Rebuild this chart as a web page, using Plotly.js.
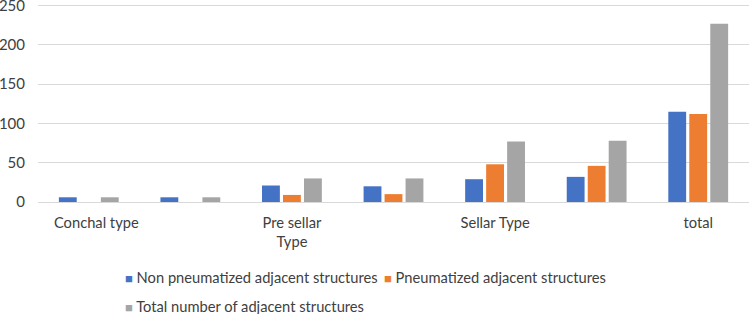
<!DOCTYPE html>
<html>
<head>
<meta charset="utf-8">
<script src="https://cdn.plot.ly/plotly-3.0.1.min.js"></script>
<style>html,body{margin:0;padding:0;background:#fff;}#chart{width:749px;height:314px;}</style>
</head>
<body>
<div id="chart"></div>
<script>
var categories = ["\u00a0\u00a0\u00a0\u00a0Conchal type", "", "Pre sellar<br>Type", "", "Sellar Type", "", "total"];
var seriesNames = ["Non pneumatized adjacent structures", "Pneumatized adjacent structures", "Total number of adjacent structures"];
var nonPneumatized = [6, 6, 21, 20, 29, 32, 115];
var pneumatized = [0, 0, 9, 10, 48, 46, 112];
var totalStructures = [6, 6, 30, 30, 77, 78, 227];
var colors = ["#4472C4", "#ED7D31", "#A5A5A5"];
var yTicks = [0, 50, 100, 150, 200, 250];

var xIdx = categories.map(function(_, i){ return i; });
var values = [nonPneumatized, pneumatized, totalStructures];
var font = {family: "Lato, 'Open Sans', sans-serif", size: 14.7, color: "#404040"};

var traces = [];
var legendIds = ["legend", "legend2", "legend3"];
values.forEach(function(v, k){
  traces.push({type: "bar", x: xIdx, y: v, name: seriesNames[k], marker: {color: colors[k]}, showlegend: false, hoverinfo: "y"});
});
values.forEach(function(v, k){
  traces.push({type: "scatter", mode: "markers", x: [null], y: [null],
    name: '<span style="color:' + colors[k] + ';font-size:13px">\u25A0</span> ' + seriesNames[k],
    marker: {symbol: "square", size: 1, color: "rgba(0,0,0,0)"}, legend: legendIds[k]});
});

var legendBase = {orientation: "h", xref: "container", yref: "container", xanchor: "left", yanchor: "middle",
  font: font, bgcolor: "rgba(0,0,0,0)", itemwidth: 30, traceorder: "normal", borderwidth: 0};

var layout = {
  width: 749, height: 314,
  margin: {l: 38, r: 0, t: 4, b: 112},
  paper_bgcolor: "#fff", plot_bgcolor: "#fff",
  font: font,
  barmode: "group", bargap: 0.38, bargroupgap: 0.15,
  xaxis: {range: [-0.5, 6.5], tickmode: "array", tickvals: xIdx, ticktext: categories,
    showgrid: false, zeroline: false, showline: false, ticks: "", ticklabelstandoff: 10, fixedrange: true},
  yaxis: {range: [0, 252], tickmode: "array", tickvals: yTicks, showgrid: true, gridcolor: "#D9D9D9", gridwidth: 1,
    zeroline: true, zerolinecolor: "#D9D9D9", zerolinewidth: 1, showline: false, ticks: "", ticklabelstandoff: 12,
    ticklabeloverflow: "allow", tickfont: {size: 15}, fixedrange: true},
  legend: Object.assign({}, legendBase, {x: 85/749, y: 36/314}),
  legend2: Object.assign({}, legendBase, {x: 344/749, y: 36/314}),
  legend3: Object.assign({}, legendBase, {x: 85/749, y: 7.5/314})
};

Plotly.newPlot("chart", traces, layout, {staticPlot: true, displayModeBar: false});
</script>
</body>
</html>
